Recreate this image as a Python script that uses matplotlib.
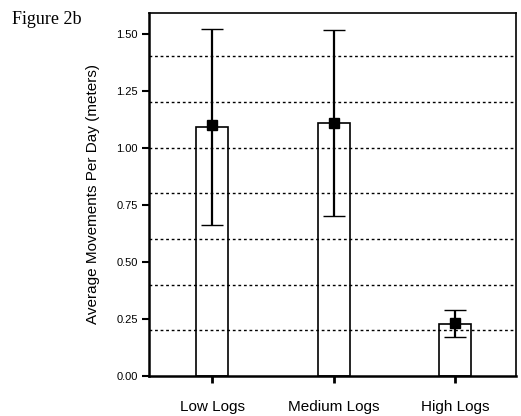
import matplotlib
matplotlib.use("Agg")
import matplotlib.pyplot as plt
import numpy as np

categories = ["Low Logs", "Medium Logs", "High Logs"]
means = [1.10, 1.11, 0.23]
bar_tops = [1.09, 1.11, 0.228]
err_upper = [1.52, 1.515, 0.29]
err_lower = [0.66, 0.70, 0.17]
yticks = [0.00, 0.25, 0.50, 0.75, 1.00, 1.25, 1.50]
grid_levels = [0.2, 0.4, 0.6, 0.8, 1.0, 1.2, 1.4]

plt.rcParams['font.family'] = ['Liberation Sans', 'DejaVu Sans']

fig = plt.figure(figsize=(5.21, 4.16), dpi=100)
ax = fig.add_axes([149/521, 1-376/416, (516-149)/521, (376-13)/416])

x = np.arange(len(categories))
for g in grid_levels:
    ax.axhline(g, color='black', lw=1.0, ls=(0, (2, 2)), zorder=1)

ax.bar(x, bar_tops, width=0.26, facecolor='none', edgecolor='black', lw=1.2, zorder=2)

means_arr = np.array(means)
yerr = np.vstack([means_arr - np.array(err_lower), np.array(err_upper) - means_arr])
ax.errorbar(x, means, yerr=yerr, fmt='s', color='black', ms=7, elinewidth=1.6,
            capsize=8, capthick=1.0, zorder=3)

ax.set_xlim(-0.52, 2.5)
ax.set_ylim(0, 1.59)
ax.set_yticks(yticks)
ax.set_yticklabels([f"{v:.2f}" for v in yticks], fontsize=8)
ax.set_xticks(x)
ax.set_xticklabels(categories, fontsize=11)
ax.tick_params(axis='y', direction='out', length=5, width=1.5, pad=3)
ax.tick_params(axis='x', direction='out', length=5, width=2, pad=12)

for s in ['left', 'bottom']:
    ax.spines[s].set_linewidth(1.8)
for s in ['top', 'right']:
    ax.spines[s].set_linewidth(1.2)

ax.set_ylabel("Average Movements Per Day (meters)", fontsize=11, labelpad=12)

fig.text(12/521, 1-24/416, "Figure 2b", family=['Liberation Serif'], fontsize=13, va='baseline')

fig.savefig("out.png", dpi=100)
